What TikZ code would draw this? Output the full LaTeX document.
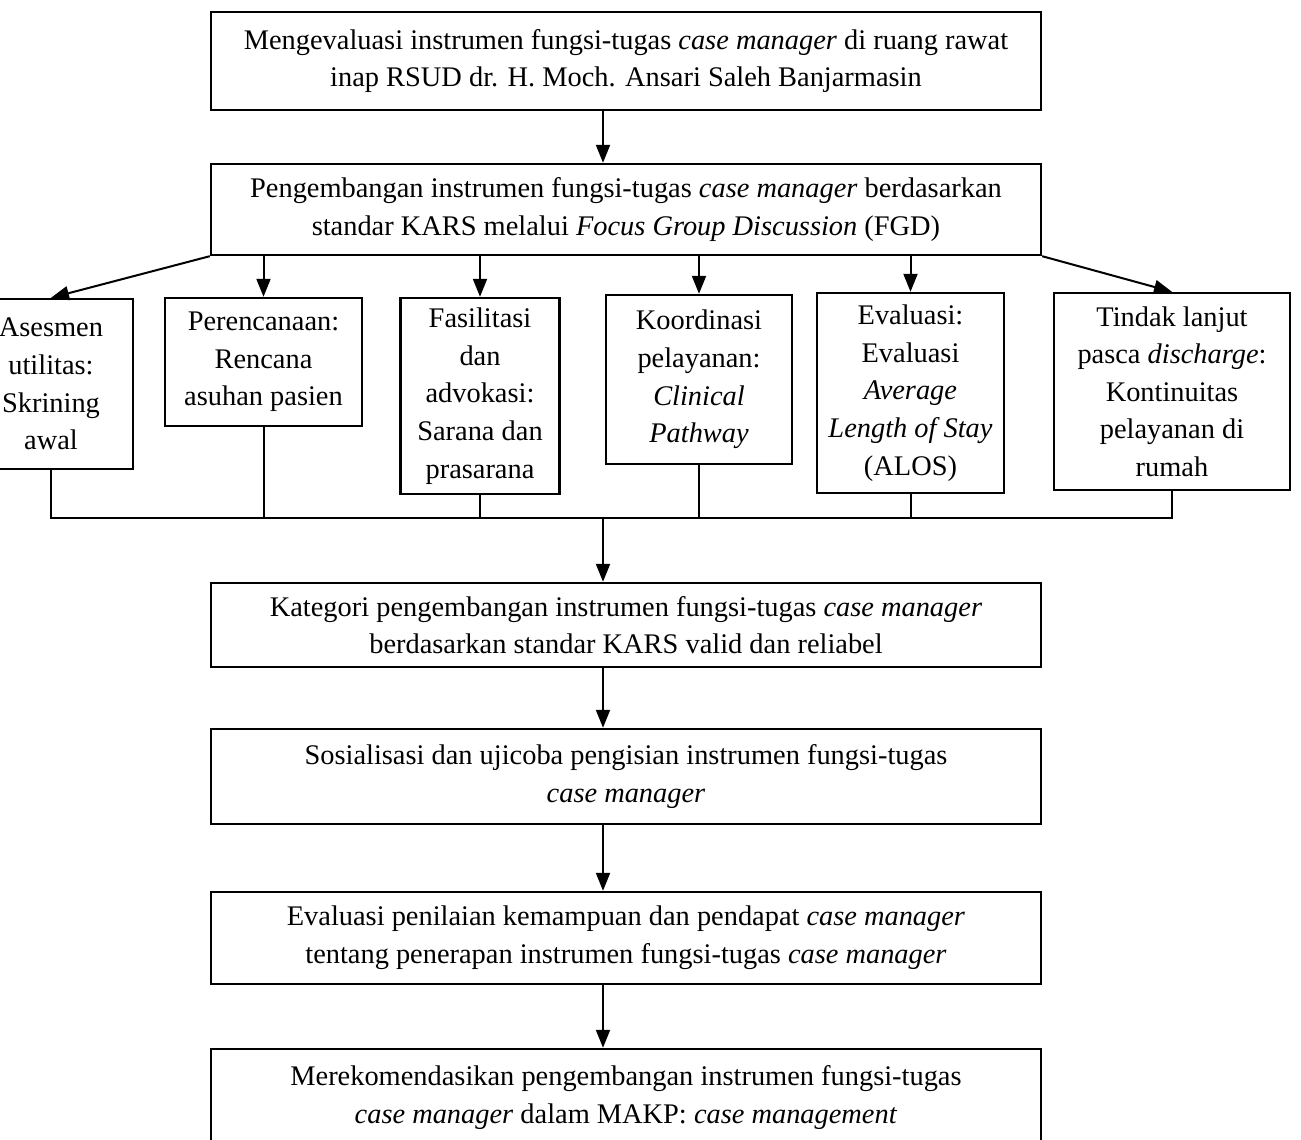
\documentclass[tikz,border=0pt]{standalone}
\usepackage{fontspec}
\setmainfont{Liberation Serif}
\usetikzlibrary{positioning,arrows.meta}

\tikzset{
  mainbox/.style={draw,line width=1.2pt,minimum width=415pt,align=center,inner sep=0pt},
  subbox/.style={draw,line width=1.2pt,align=center,inner sep=0pt},
}

\begin{document}
\begin{tikzpicture}[x=0.5pt,y=-0.5pt,>={Triangle[length=9pt,width=7pt]},line width=1pt,
  font=\fontsize{14.2}{18.8}\selectfont]
\fill[white] (0,0) rectangle (1301,1140);
\useasboundingbox (0,0) rectangle (1301,1140);
\coordinate (spine) at (603,0);
\coordinate (bus) at (0,518);
% main column
\node[mainbox,minimum height=49pt] (top) at (626,61) {Mengevaluasi instrumen fungsi-tugas \textit{case manager} di ruang rawat\\inap RSUD dr. H. Moch. Ansari Saleh Banjarmasin};
\node[mainbox,minimum height=45.5pt] (dev) at (626,209.5) {Pengembangan instrumen fungsi-tugas \textit{case manager} berdasarkan\\standar KARS melalui \textit{Focus Group Discussion} (FGD)};
% the six functions
\node[subbox,minimum width=82pt,minimum height=85pt] (ases) at (51,384) {Asesmen\\utilitas:\\Skrining\\awal};
\node[subbox,minimum width=98.5pt,minimum height=64pt] (plan) at (263.5,362) {Perencanaan:\\Rencana\\asuhan pasien};
\node[subbox,minimum width=79.5pt,minimum height=98pt] (fasil) at (480,396) {Fasilitasi\\dan\\advokasi:\\Sarana dan\\prasarana};
\node[subbox,minimum width=93pt,minimum height=84.5pt] (koor) at (699,379.5) {Koordinasi\\pelayanan:\\\textit{Clinical}\\\textit{Pathway}};
\node[subbox,minimum width=93.5pt,minimum height=100pt] (eval) at (910.5,393) {Evaluasi:\\Evaluasi\\\textit{Average}\\\textit{Length of Stay}\\(ALOS)};
\node[subbox,minimum width=118pt,minimum height=98.5pt] (tindak) at (1172,391.5) {Tindak lanjut\\pasca \textit{discharge}:\\Kontinuitas\\pelayanan di\\rumah};
% lower column
\node[mainbox,minimum height=42pt] (kat) at (626,625) {Kategori pengembangan instrumen fungsi-tugas \textit{case manager}\\berdasarkan standar KARS valid dan reliabel};
\node[mainbox,minimum height=47.5pt] (sos) at (626,776.5) {Sosialisasi dan ujicoba pengisian instrumen fungsi-tugas\\\textit{case manager}};
\node[mainbox,minimum height=46pt] (evp) at (626,938) {Evaluasi penilaian kemampuan dan pendapat \textit{case manager}\\tentang penerapan instrumen fungsi-tugas \textit{case manager}};
\node[mainbox,minimum height=48.5pt] (rek) at (626,1097.5) {Merekomendasikan pengembangan instrumen fungsi-tugas\\\textit{case manager} dalam MAKP: \textit{case management}};

\draw[->] (top.south -| spine) -- (dev.north -| spine);
\draw[->] (dev.south west) -- (ases.north);
\draw[->] (dev.south east) -- (tindak.north);
\foreach \b in {plan,fasil,koor,eval}
  \draw[->] (dev.south -| \b.north) -- (\b.north);
% collector line
\draw (ases.south) -- (ases.south |- bus) -- (tindak.south |- bus) -- (tindak.south);
\foreach \b in {plan,fasil,koor,eval}
  \draw (\b.south) -- (\b.south |- bus);
\draw[->] (bus -| spine) -- (kat.north -| spine);
\foreach \a/\b in {kat/sos,sos/evp,evp/rek}
  \draw[->] (\a.south -| spine) -- (\b.north -| spine);
\end{tikzpicture}
\end{document}
